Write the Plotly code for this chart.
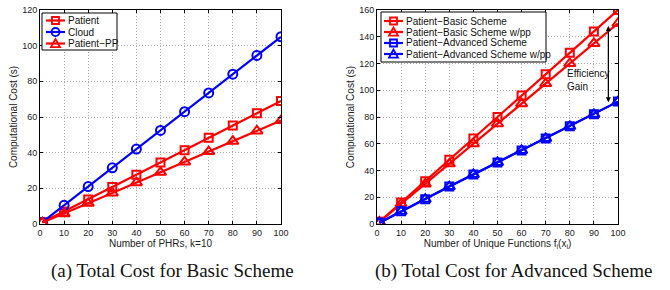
import plotly.graph_objects as go

x_vals = [1, 10, 20, 30, 40, 50, 60, 70, 80, 90, 100]

# (a) Basic scheme
patient = [1.0, 7.0, 13.8, 20.7, 27.6, 34.5, 41.4, 48.3, 55.2, 62.1, 69.0]
cloud = [1.0, 10.5, 21.0, 31.5, 42.0, 52.5, 63.0, 73.5, 84.0, 94.5, 105.0]
patient_pp = [0.8, 5.8, 11.6, 17.4, 23.2, 29.0, 34.8, 40.6, 46.4, 52.2, 58.0]

# (b) Advanced scheme
basic = [1.6, 16.0, 32.0, 48.0, 64.0, 80.0, 96.0, 112.0, 128.0, 144.0, 160.0]
basic_pp = [1.5, 15.0, 30.0, 45.0, 60.0, 75.0, 90.0, 105.0, 120.0, 135.0, 150.0]
advanced = [0.9, 9.5, 18.5, 28.0, 37.0, 46.0, 55.0, 64.0, 73.0, 82.0, 91.5]
advanced_pp = [0.9, 9.5, 18.5, 28.0, 37.0, 46.0, 55.0, 64.0, 73.0, 82.0, 91.5]

xticks = [0, 10, 20, 30, 40, 50, 60, 70, 80, 90, 100]
yticks_a = [0, 20, 40, 60, 80, 100, 120]
yticks_b = [0, 20, 40, 60, 80, 100, 120, 140, 160]

legend_a = ["Patient", "Cloud", "Patient\u2212PP"]
legend_b = ["Patient\u2212Basic Scheme", "Patient\u2212Basic Scheme w/pp",
            "Patient\u2212Advanced Scheme", "Patient\u2212Advanced Scheme w/pp"]

RED = "#ff0000"
BLUE = "#0000ff"
FONT = "Liberation Sans, Arial, sans-serif"
CAP = "Liberation Serif, Times New Roman, serif"

W, H = 670, 290

SIZES = {"square-open": 8, "circle-open": 9, "triangle-up-open": 10}

fig = go.Figure()


def add(x, y, name, color, symbol, xa, ya):
    fig.add_trace(go.Scatter(
        x=x, y=y, name=name, mode="lines+markers", showlegend=False,
        line=dict(color=color, width=2.2),
        marker=dict(symbol=symbol, size=SIZES[symbol], color=color,
                    line=dict(color=color, width=2)),
        xaxis=xa, yaxis=ya,
    ))


series_a = [(patient, legend_a[0], RED, "square-open"),
            (cloud, legend_a[1], BLUE, "circle-open"),
            (patient_pp, legend_a[2], RED, "triangle-up-open")]
series_b = [(basic, legend_b[0], RED, "square-open"),
            (basic_pp, legend_b[1], RED, "triangle-up-open"),
            (advanced, legend_b[2], BLUE, "square-open"),
            (advanced_pp, legend_b[3], BLUE, "triangle-up-open")]

for y, n, c, s in series_a:
    add(x_vals, y, n, c, s, "x", "y")
for y, n, c, s in series_b:
    add(x_vals, y, n, c, s, "x2", "y2")


def px(x):
    return x / W


def py(y):
    return 1 - y / H


axis_common = dict(
    showline=True, linecolor="black", linewidth=1, mirror="ticks",
    ticks="inside", ticklen=3, tickcolor="black",
    showgrid=True, gridcolor="#aaaaaa", griddash="1px,2px", gridwidth=1,
    zeroline=False, tickfont=dict(family=FONT, size=9, color="#222"),
    automargin=False, ticklabeloverflow="allow",
)

fig.update_layout(
    width=W, height=H,
    margin=dict(l=0, r=0, t=0, b=0),
    paper_bgcolor="white", plot_bgcolor="white",
    font=dict(family=FONT, size=9, color="#222"),
    showlegend=False,
    xaxis=dict(domain=[px(40), px(281)], range=[0, 100], tickvals=xticks, anchor="y",
               title=dict(text="Number of PHRs, k=10", standoff=0, font=dict(size=10)), **axis_common),
    yaxis=dict(domain=[py(224), py(10)], range=[0, 120], tickvals=yticks_a, anchor="x",
               title=dict(text="Computational Cost (s)", standoff=2, font=dict(size=10)), **axis_common),
    xaxis2=dict(domain=[px(377), px(618)], range=[0, 100], tickvals=xticks, anchor="y2",
                title=dict(text="Number of Unique Functions f<sub>i</sub>(x<sub>i</sub>)", standoff=0,
                           font=dict(size=10)), **axis_common),
    yaxis2=dict(domain=[py(224), py(10)], range=[0, 160], tickvals=yticks_b, anchor="x2",
                title=dict(text="Computational Cost (s)", standoff=2, font=dict(size=10)), **axis_common),
)


def draw_legend(box, rows, x0, x1, tx, items):
    # box = (left, top, right, bottom) in page pixels
    l, t, r, b = box
    fig.add_shape(type="rect", xref="paper", yref="paper", x0=px(l), x1=px(r), y0=py(b), y1=py(t),
                  line=dict(color="black", width=1), fillcolor="white", layer="above")
    for yy, (name, color, symbol) in zip(rows, items):
        fig.add_shape(type="line", xref="paper", yref="paper", x0=px(x0), x1=px(x1), y0=py(yy), y1=py(yy),
                      line=dict(color=color, width=2.2), layer="above")
        cx = (x0 + x1) / 2
        if symbol == "square-open":
            s = 3.5
            fig.add_shape(type="rect", xref="paper", yref="paper", x0=px(cx - s), x1=px(cx + s),
                          y0=py(yy + s), y1=py(yy - s), line=dict(color=color, width=1.8),
                          fillcolor="rgba(0,0,0,0)", layer="above")
        elif symbol == "circle-open":
            s = 4
            fig.add_shape(type="circle", xref="paper", yref="paper", x0=px(cx - s), x1=px(cx + s),
                          y0=py(yy + s), y1=py(yy - s), line=dict(color=color, width=1.8),
                          fillcolor="rgba(0,0,0,0)", layer="above")
        else:
            s = 4.5
            path = "M {} {} L {} {} L {} {} Z".format(px(cx), py(yy - s), px(cx - s), py(yy + s * 0.8),
                                                     px(cx + s), py(yy + s * 0.8))
            fig.add_shape(type="path", xref="paper", yref="paper", path=path,
                          line=dict(color=color, width=1.8), fillcolor="rgba(0,0,0,0)", layer="above")
        fig.add_annotation(x=px(tx), y=py(yy), xref="paper", yref="paper", text=name, showarrow=False,
                           xanchor="left", yanchor="middle", font=dict(family=FONT, size=10, color="#111"))


draw_legend((42, 13, 117, 50), [20.5, 32, 43.5], 46, 65, 66,
            [(n, c, s) for _, n, c, s in series_a])
draw_legend((381, 12, 546, 62), [21, 32, 43, 54], 384, 403, 404,
            [(n, c, s) for _, n, c, s in series_b])

# Efficiency gain double arrow
fig.add_annotation(x=96, y=148, ax=96, ay=91, xref="x2", yref="y2", axref="x2", ayref="y2",
                   showarrow=True, arrowhead=2, arrowsize=1, arrowwidth=1, arrowcolor="black", text="")
fig.add_annotation(x=96, y=91, ax=96, ay=148, xref="x2", yref="y2", axref="x2", ayref="y2",
                   showarrow=True, arrowhead=2, arrowsize=1, arrowwidth=1, arrowcolor="black", text="")
fig.add_annotation(x=78, y=108, xref="x2", yref="y2", text="Efficiency<br>Gain", showarrow=False,
                   xanchor="left", align="left", font=dict(family=FONT, size=10, color="#111"))

# Captions
fig.add_annotation(x=px(172), y=py(271), xref="paper", yref="paper", showarrow=False,
                   xanchor="center", yanchor="middle",
                   text="(a) Total Cost for Basic Scheme", font=dict(family=CAP, size=19, color="#111"))
fig.add_annotation(x=px(513), y=py(271), xref="paper", yref="paper", showarrow=False,
                   xanchor="center", yanchor="middle",
                   text="(b) Total Cost for Advanced Scheme", font=dict(family=CAP, size=19, color="#111"))

# remove the default 8px page margin so the figure fills the window exactly
fig.write_html("out.html", config={"displayModeBar": False},
               post_script="document.body.style.margin='0';document.body.style.overflow='hidden';")
